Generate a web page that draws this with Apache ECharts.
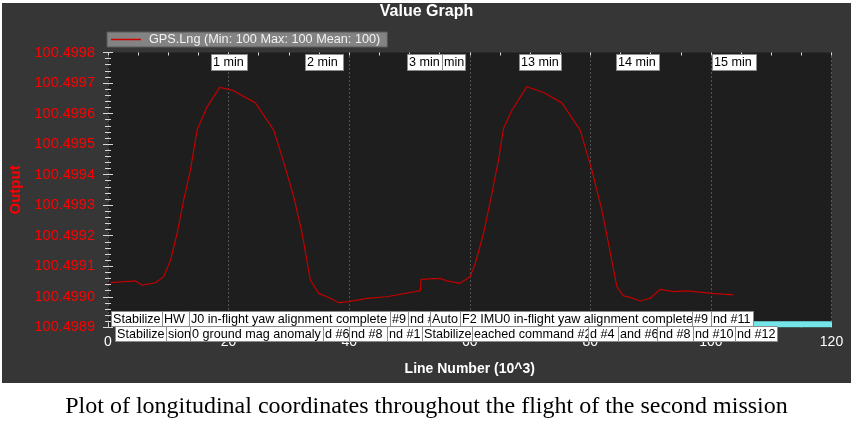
<!DOCTYPE html>
<html>
<head>
<meta charset="utf-8">
<script src="https://cdn.jsdelivr.net/npm/echarts@6/dist/echarts.min.js"></script>
<style>
  html, body { margin: 0; padding: 0; background: #fff; }
  #chart { width: 853px; height: 431px; }
</style>
</head>
<body>
<div id="chart"></div>
<script>
// line number (x 1000) and GPS longitude
var lineNumber = [0.4, 4.56, 5.67, 7.87, 9.25, 10.36, 11.47, 12.56, 13.67, 14.78, 16.44, 18.53, 20.59,
  24.45, 25.82, 27.48, 28.87, 30.80, 32.19, 33.56, 34.94, 36.33, 38.25, 39.91, 42.96, 46.28, 51.80,
  51.91, 55.11, 56.22, 58.43, 60.08, 60.91, 62.29, 63.68, 64.77, 65.60, 66.99, 69.48, 72.23, 75.28,
  78.31, 80.25, 81.91, 83.01, 84.40, 85.49, 86.60, 88.26, 89.92, 91.57, 93.78, 96.00, 100.14, 103.72];
var gpsLng = [100.499046, 100.499052, 100.499038, 100.499046, 100.499066, 100.499120, 100.499208,
  100.499317, 100.499415, 100.499546, 100.499622, 100.499686, 100.499677, 100.499635, 100.499595,
  100.499546, 100.499458, 100.499328, 100.499208, 100.499055, 100.499011, 100.499000, 100.498981,
  100.498984, 100.498995, 100.499000, 100.499020, 100.499057, 100.499060, 100.499052, 100.499044,
  100.499066, 100.499109, 100.499208, 100.499339, 100.499448, 100.499551, 100.499611, 100.499688,
  100.499669, 100.499635, 100.499546, 100.499415, 100.499284, 100.499175, 100.499033, 100.499003,
  100.498998, 100.498986, 100.498995, 100.499024, 100.499017, 100.499019, 100.499011, 100.499006];

var yTicks = ['100.4989', '100.4990', '100.4991', '100.4992', '100.4993', '100.4994', '100.4995', '100.4996', '100.4997', '100.4998'];
var xTicks = [0, 20, 40, 60, 80, 100, 120];

// minute markers along the top (visible parts of the boxes)
var minuteText = ['1 min', '2 min', '3 min', 'min', '13 min', '14 min', '15 min'];
var minuteStart = [17.15, 32.73, 49.59, 55.36, 68.25, 84.23, 100.24];
var minuteEnd = [23.07, 39.03, 55.36, 59.14, 75.28, 91.41, 107.49];

// message boxes along the bottom, two rows, each box runs to the next one
var msgText1 = ['Stabilize', 'HW', 'J0 in-flight yaw alignment complete', '#9', 'nd #', 'Auto',
  'F2 IMU0 in-flight yaw alignment complete', '#9', 'nd #11'];
var msgStart1 = [0.58, 9.03, 13.51, 46.80, 49.78, 53.43, 58.40, 96.89, 100.03];
var msgEnd1 = 107.0;
var msgText2 = ['Stabilize', 'sion', '0 ground mag anomaly', 'd #6', 'nd #8', 'nd #1', 'Stabilize',
  'eached command #2', 'd #4', 'and #6', 'nd #8', 'nd #10', 'nd #12'];
var msgStart2 = [1.24, 9.70, 13.67, 35.72, 40.03, 46.33, 52.13, 60.42, 79.64, 84.61, 91.08, 97.04, 104.0];
var msgEnd2 = 110.96;

// flight mode strip
var modeBand = [107.0, 120];

var seriesName = 'GPS.Lng (Min: 100 Max: 100 Mean: 100)';
var caption = 'Plot of longitudinal coordinates throughout the flight of the second mission';

var Y_MIN = +yTicks[0], Y_MAX = +yTicks[yTicks.length - 1];
var FONT = 'Liberation Sans';
var LINE_RED = '#c00000';
var LABEL_RED = '#ff0000';

var boxData = [], boxText = [];
minuteText.forEach(function (t, i) {
  boxData.push([minuteStart[i], minuteEnd[i], 0]);
  boxText.push(t);
});
msgText1.forEach(function (t, i) {
  boxData.push([msgStart1[i], i + 1 < msgStart1.length ? msgStart1[i + 1] : msgEnd1, 1]);
  boxText.push(t);
});
msgText2.forEach(function (t, i) {
  boxData.push([msgStart2[i], i + 1 < msgStart2.length ? msgStart2[i + 1] : msgEnd2, 2]);
  boxText.push(t);
});

function renderBox(params, api) {
  var s = api.coord([api.value(0), Y_MAX]);
  var e = api.coord([api.value(1), Y_MAX]);
  var yBottom = api.coord([api.value(0), Y_MIN])[1];
  var row = api.value(2);
  var top = row === 0 ? s[1] + 1 : (row === 1 ? yBottom - 16 : yBottom - 1);
  var h = row === 0 ? 16 : 15;
  return {
    type: 'group',
    children: [{
      type: 'rect',
      shape: { x: Math.round(s[0]) + 0.5, y: Math.round(top) + 0.5, width: Math.round(e[0] - s[0]), height: h },
      style: { fill: '#fff', stroke: '#8c8c8c', lineWidth: 1 }
    }, {
      type: 'text',
      x: Math.round(s[0]) + 2,
      y: Math.round(top) + h / 2 + 1,
      style: { text: boxText[params.dataIndex], fill: '#000', fontSize: 12.6, fontFamily: FONT, verticalAlign: 'middle' }
    }]
  };
}

function renderBand(params, api) {
  var s = api.coord([api.value(0), Y_MIN]);
  var e = api.coord([api.value(1), Y_MIN]);
  return {
    type: 'rect',
    shape: { x: s[0], y: s[1] - 6, width: e[0] - s[0], height: 6 },
    style: { fill: '#74e6ea' }
  };
}

var chart = echarts.init(document.getElementById('chart'));

var yCommon = {
  type: 'value',
  min: Y_MIN,
  max: Y_MAX,
  interval: 0.0001,
  axisLine: { show: false },
  splitLine: { show: false },
  minorTick: { show: true, splitNumber: 5, length: 3, lineStyle: { color: '#d8d8d8' } }
};

chart.setOption({
  backgroundColor: '#fff',
  animation: false,
  graphic: {
    elements: [{
      type: 'rect', z: -10, silent: true,
      shape: { x: 2, y: 3, width: 849, height: 380 },
      style: { fill: '#363636' }
    }]
  },
  title: [{
    text: 'Value Graph',
    left: 'center', top: 4, padding: 0,
    textStyle: { color: '#fff', fontSize: 16, fontWeight: 'bold', fontFamily: FONT }
  }, {
    text: caption,
    left: 'center', top: 395, padding: 0,
    textStyle: { color: '#000', fontSize: 24, fontWeight: 'normal', fontFamily: 'Liberation Serif' }
  }],
  legend: {
    left: 107, top: 32,
    padding: [1, 7, 1, 4],
    itemWidth: 30, itemHeight: 1.5,
    icon: 'rect',
    itemStyle: { color: '#d00000' },
    backgroundColor: '#838383',
    borderColor: '#585858', borderWidth: 1,
    textStyle: { color: '#f2f2f2', fontSize: 12.7, fontFamily: FONT, padding: [0, 0, 0, 3] },
    data: [seriesName]
  },
  grid: {
    left: 107.5, right: 21.5, top: 52.5, bottom: 103.7,
    show: true, backgroundColor: '#1e1e1e', borderWidth: 0
  },
  xAxis: [{
    type: 'value',
    min: xTicks[0], max: xTicks[xTicks.length - 1], interval: xTicks[1] - xTicks[0],
    name: 'Line Number (10^3)',
    nameLocation: 'middle', nameGap: 35,
    nameTextStyle: { color: '#fff', fontSize: 14, fontWeight: 'bold', fontFamily: FONT },
    axisLine: { show: false },
    axisTick: { show: true, inside: true, length: 5, lineStyle: { color: '#d8d8d8' } },
    minorTick: { show: true, splitNumber: 4, length: 3, lineStyle: { color: '#d8d8d8' } },
    axisLabel: { color: '#fff', fontSize: 14, fontFamily: FONT, margin: 8 },
    splitLine: { show: true, lineStyle: { color: '#8a8a8a', type: [1, 3], width: 1 } }
  }, {
    type: 'value', position: 'top',
    min: xTicks[0], max: xTicks[xTicks.length - 1], interval: xTicks[1] - xTicks[0],
    axisLine: { show: false },
    axisLabel: { show: false },
    axisTick: { show: true, inside: true, length: 3, lineStyle: { color: '#d8d8d8' } },
    minorTick: { show: true, splitNumber: 4, length: 3, lineStyle: { color: '#d8d8d8' } },
    splitLine: { show: false }
  }],
  yAxis: [Object.assign({}, yCommon, {
    name: 'Output',
    nameLocation: 'middle', nameGap: 85,
    nameTextStyle: { color: LABEL_RED, fontSize: 15, fontWeight: 'bold', fontFamily: FONT },
    axisTick: { show: true, inside: true, length: 5, lineStyle: { color: '#d8d8d8' } },
    axisLabel: {
      color: LABEL_RED, fontSize: 14.5, fontFamily: FONT, margin: 13,
      formatter: function (v) { return v.toFixed(4); }
    }
  }), Object.assign({}, yCommon, {
    position: 'left',
    axisTick: { show: true, inside: false, length: 5, lineStyle: { color: '#d8d8d8' } },
    axisLabel: { show: false }
  })],
  series: [{
    name: seriesName,
    type: 'line',
    symbol: 'none',
    z: 2,
    lineStyle: { color: LINE_RED, width: 1.2 },
    itemStyle: { color: LINE_RED },
    data: lineNumber.map(function (x, i) { return [x, gpsLng[i]]; })
  }, {
    type: 'custom',
    silent: true,
    clip: false,
    z: 3,
    renderItem: renderBand,
    encode: { x: [0, 1] },
    data: [modeBand]
  }, {
    type: 'custom',
    silent: true,
    clip: false,
    z: 4,
    renderItem: renderBox,
    encode: { x: [0, 1] },
    data: boxData
  }]
});
</script>
</body>
</html>
